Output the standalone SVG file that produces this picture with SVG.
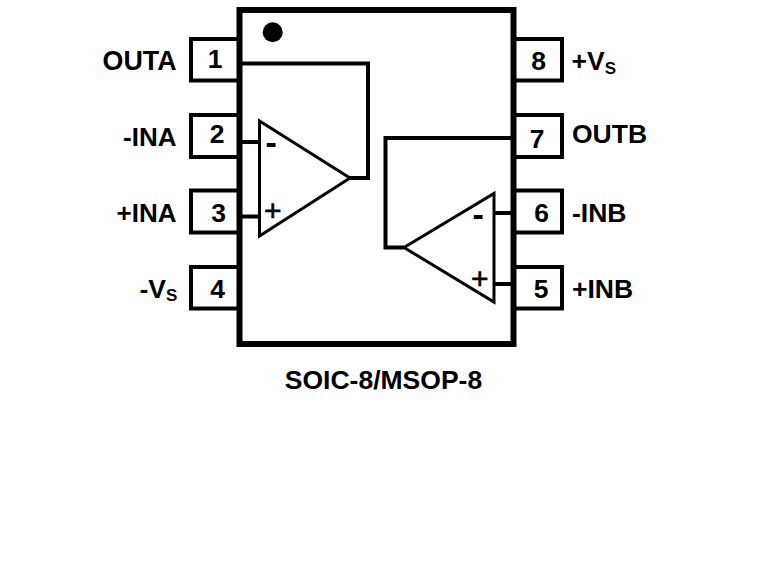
<svg xmlns="http://www.w3.org/2000/svg" width="778" height="562" viewBox="0 0 778 562">
<style>
text{font-family:"Liberation Sans",Arial,sans-serif;font-weight:700;fill:#000}
.l{font-size:26.500px;text-anchor:end}
.r{font-size:26.500px}
.n{font-size:26.500px;text-anchor:middle}
.s{font-size:17px}
.pin{fill:#fff;stroke:#000;stroke-width:4}
.w{fill:none;stroke:#000;stroke-width:4}
.amp{fill:#fff;stroke:#000;stroke-width:3}
text.p{font-size:30px;font-weight:400;stroke:#000;stroke-width:.6px}
text.m{font-size:34px}
</style>
<rect width="778" height="562" fill="#fff"/>
<g id="pin1"><rect class="pin" x="191" y="39" width="49" height="41.500"/><text class="n" x="215" y="67.500">1</text><text class="l" x="176.500" y="70" style="font-size:26.800px">OUTA</text></g>
<g id="pin2"><rect class="pin" x="191" y="115" width="49" height="42"/><text class="n" x="217" y="142.500">2</text><text class="l" x="176.500" y="146" style="font-size:26px">-INA</text></g>
<g id="pin3"><rect class="pin" x="191" y="190.500" width="49" height="42"/><text class="n" x="218.500" y="221.500">3</text><text class="l" x="176.500" y="221.500" style="font-size:26px">+INA</text></g>
<g id="pin4"><rect class="pin" x="191" y="267" width="49" height="41.500"/><text class="n" x="217.500" y="298">4</text><text x="139.500" y="298" class="r">-V<tspan class="s" dy="3">S</tspan></text></g>
<g id="pin8"><rect class="pin" x="513" y="39" width="49" height="41.500"/><text class="n" x="538.500" y="70">8</text><text class="r" x="571.500" y="70">+V<tspan class="s" dy="4">S</tspan></text></g>
<g id="pin7"><rect class="pin" x="513" y="115" width="49" height="42"/><text class="n" x="537" y="148">7</text><text class="r" x="572" y="142.500">OUTB</text></g>
<g id="pin6"><rect class="pin" x="513" y="190.500" width="49" height="42"/><text class="n" x="541.500" y="222">6</text><text class="r" x="572" y="222">-INB</text></g>
<g id="pin5"><rect class="pin" x="513" y="267" width="49" height="41.500"/><text class="n" x="541" y="298">5</text><text class="r" x="572" y="298">+INB</text></g>
<g id="body"><rect x="239.500" y="10" width="274" height="334" fill="none" stroke="#000" stroke-width="6"/><circle cx="272.700" cy="32.300" r="10" fill="#000"/></g>
<g id="connectors">
<path class="w" d="M242 63.500H368V178H349"/>
<path class="w" d="M242 142H260"/>
<path class="w" d="M242 216.500H260"/>
<path class="w" d="M511 138H385.500V247.500H404"/>
<path class="w" d="M493 213H511"/>
<path class="w" d="M493 284H511"/>
</g>
<g id="ampA"><path class="amp" d="M259.500 121V236L350 178Z"/><text class="m" x="265.500" y="154">-</text><text class="p" x="264" y="221">+</text></g>
<g id="ampB"><path class="amp" d="M494 193.500V302L404 247.500Z"/><text class="m" x="472.500" y="226">-</text><text class="p" x="471" y="288.500">+</text></g>
<text id="caption" x="383.500" y="389" font-size="26.500" text-anchor="middle">SOIC-8/MSOP-8</text>
</svg>
